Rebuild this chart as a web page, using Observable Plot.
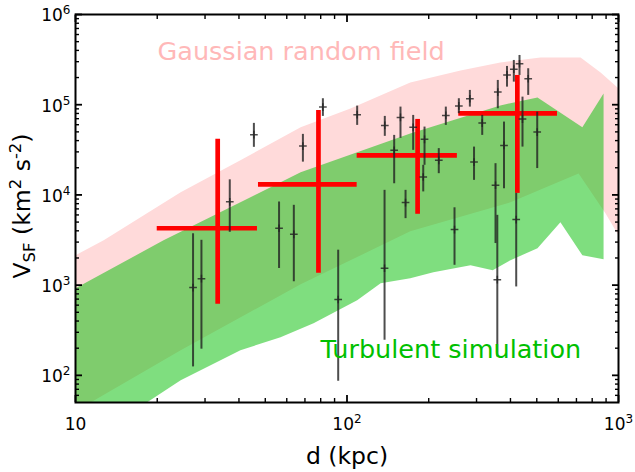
<!DOCTYPE html>
<html><head><meta charset="utf-8">
<script src="https://cdn.jsdelivr.net/npm/d3@7"></script>
<script src="https://cdn.jsdelivr.net/npm/@observablehq/plot@0.6"></script>
<style>body{margin:0;background:#fff;} svg{font-family:"DejaVu Sans";}</style>
</head><body><div id="chart"></div>
<script>
// axis ticks
const xMajor = [10, 100, 1000];
const xTickBase = ["10", "10", "10"];
const xTickExp = ["", "2", "3"];
const xMinor = [20,30,40,50,60,70,80,90,200,300,400,500,600,700,800,900];
const yMajor = [1e2, 1e3, 1e4, 1e5, 1e6];
const yTickBase = ["10", "10", "10", "10", "10"];
const yTickExp = ["2", "3", "4", "5", "6"];
const yMinor = [60,70,80,90,200,300,400,500,600,700,800,900,2e3,3e3,4e3,5e3,6e3,7e3,8e3,9e3,
  2e4,3e4,4e4,5e4,6e4,7e4,8e4,9e4,2e5,3e5,4e5,5e5,6e5,7e5,8e5,9e5];

// Gaussian random field band
const pinkUpperX = [10, 12.7, 24.4, 40.5, 67.5, 103, 171, 262, 367, 516, 725, 859, 1000];
const pinkUpperY = [2140, 3140, 10700, 24200, 56100, 91000, 176600, 240000, 294000, 334000, 334000, 228000, 151700];
const pinkLowerX = [10, 24.4, 67.5, 171, 400, 713, 895, 1000];
const pinkLowerY = [40, 190, 1020, 3950, 8280, 17300, 6250, 3570];

// Turbulent simulation band
const greenUpperX = [10, 21.1, 40.5, 67.5, 171, 367, 503, 736, 881];
const greenUpperY = [924, 3140, 8280, 17800, 48100, 98200, 120500, 56100, 133400];
const greenLowerX = [10, 18.4, 24.4, 40.5, 56.9, 75.3, 109, 133, 171, 208, 285, 344, 400, 503, 611, 736, 881];
const greenLowerY = [17, 50.5, 88.5, 190, 265, 378, 681, 1050, 1190, 1390, 1660, 1460, 1890, 2560, 4980, 2140, 1940];

// observed points
const dX = [27.1, 29.1, 37.0, 45.4, 56.2, 63.7, 68.8, 81.5, 92.8, 109, 137.8, 137.5, 149.2, 157.4, 164.3, 175.3, 193, 190.9, 217.8, 231.2, 248.9, 258.2, 283.5, 293.7, 314.8, 352.4, 357.8, 359.3, 378.7, 388.5, 411.6, 420, 431.9, 443, 465, 501.9];
const dY = [940, 1180, 8390, 46500, 4270, 3660, 34800, 94100, 693, 77500, 59000, 1540, 31200, 72300, 8220, 56100, 41300, 15800, 24200, 76100, 4130, 97000, 116500, 23100, 62600, 12800, 1150, 137900, 35400, 213800, 247900, 5330, 284500, 69300, 194100, 49700];
const dLo = [124, 195, 3850, 33700, 1530, 1090, 23100, 74200, 86, 59000, 44600, 245, 13300, 42400, 5460, 31200, 21300, 10800, 17200, 59000, 1660, 79500, 94100, 14500, 45700, 2890, 160, 90300, 11700, 156600, 178000, 955, 211100, 33900, 126800, 19600];
const dHi = [3710, 3140, 14700, 62100, 8350, 7670, 46900, 116500, 2440, 96500, 74200, 11240, 45700, 94100, 11240, 76100, 56500, 21300, 32600, 94100, 7200, 116500, 144000, 33900, 76100, 22200, 5940, 185800, 64200, 265600, 309400, 10400, 351600, 121400, 250400, 82800];

// binned red crosses
const crossX = [33.4, 78.5, 182, 424];
const crossXLo = [20.0, 47.2, 109, 258];
const crossXHi = [46.8, 109, 255, 596];
const crossY = [4270, 13100, 27500, 80100];
const crossYLo = [614, 1355, 6100, 10400];
const crossYHi = [41300, 86500, 68700, 211000];

// annotations
const annText = ["Gaussian random field", "Turbulent simulation"];
const annX = [20.05, 79.9];
const annY = [310000, 155];
const annColor = ["#ffb8b8", "#00c000"];

const poly = (ux, uy, lx, ly) => [
  ...ux.map((x, i) => ({x, y: uy[i]})),
  ...lx.map((x, i) => ({x, y: ly[i]})).reverse()
];
const pinkPoly = poly(pinkUpperX, pinkUpperY, pinkLowerX, pinkLowerY);
const greenPoly = poly(greenUpperX, greenUpperY, greenLowerX, greenLowerY);
const points = dX.map((x, i) => ({x, y: dY[i], lo: dLo[i], hi: dHi[i]}));
const crosses = crossX.map((x, i) => ({x, xlo: crossXLo[i], xhi: crossXHi[i], y: crossY[i], ylo: crossYLo[i], yhi: crossYHi[i]}));
const anns = annText.map((t, i) => ({t, x: annX[i], y: annY[i], c: annColor[i]}));

const W = 635, H = 472, mL = 75, mR = 17, mT = 14, mB = 70;
// inward ticks: negative tick size on all four sides
const tk = (w) => ({fill: "none", stroke: "black", strokeWidth: w});
const ticksX = (vals, len, w) => [
  Plot.axisX(vals, {anchor: "bottom", tickSize: -len, ...tk(w)}),
  Plot.axisX(vals, {anchor: "top", tickSize: -len, ...tk(w)})
];
const ticksY = (vals, len, w) => [
  Plot.axisY(vals, {anchor: "left", tickSize: -len, ...tk(w)}),
  Plot.axisY(vals, {anchor: "right", tickSize: -len, ...tk(w)})
];

const fs = 17;
const plot = Plot.plot({
  width: W, height: H,
  marginLeft: mL, marginRight: mR, marginTop: mT, marginBottom: mB,
  x: {type: "log", domain: [10, 1000], label: null},
  y: {type: "log", domain: [50, 1e6], label: null},
  style: {fontFamily: "DejaVu Sans", fontSize: fs + "px", color: "black", background: "white"},
  marks: [
    Plot.line(pinkPoly, {x: "x", y: "y", fill: "#ffdada", stroke: "none", clip: true}),
    Plot.line(greenPoly, {x: "x", y: "y", fill: "#00be00", fillOpacity: 0.5, stroke: "none", clip: true}),
    Plot.ruleY(crosses, {y: "y", x1: "xlo", x2: "xhi", stroke: "red", strokeWidth: 4.7}),
    Plot.ruleX(crosses, {x: "x", y1: "ylo", y2: "yhi", stroke: "red", strokeWidth: 4.7}),
    Plot.ruleX(points, {x: "x", y1: "lo", y2: "hi", stroke: "#222", strokeOpacity: 0.8, strokeWidth: 2, clip: true}),
    Plot.dot(points, {x: "x", y: "y", symbol: "plus", r: 2.6, stroke: "#222", strokeOpacity: 0.8, strokeWidth: 1.5}),
    Plot.text(anns, {x: "x", y: "y", text: "t", fill: "c", textAnchor: "start", lineAnchor: "bottom", fontSize: 25.5}),
    ...ticksX(xMajor, 7, 1.8), ...ticksX(xMinor, 4, 1.4),
    ...ticksY(yMajor, 7, 1.8), ...ticksY(yMinor, 4, 1.4),
    Plot.axisX(xMajor, {anchor: "bottom", tickSize: 0, tickPadding: 15.5, fontSize: fs, tickFormat: d => xTickBase[xMajor.indexOf(d)] + xTickExp[xMajor.indexOf(d)]}),
    Plot.axisY(yMajor, {anchor: "left", tickSize: 0, tickPadding: 5, dy: 1.5, fontSize: fs, tickFormat: d => yTickBase[yMajor.indexOf(d)] + yTickExp[yMajor.indexOf(d)]}),
    Plot.frame({stroke: "black", strokeWidth: 2}),
    Plot.text(["d (kpc)"], {frameAnchor: "bottom", dy: 61, lineAnchor: "bottom", fontSize: 23.5, fill: "black"})
  ]
});

const svg = d3.select(plot);
// rebuild tick labels as base + superscript tspans
function superscriptLabels(sel, vals, base, exp) {
  sel.each(function() {
    const t = d3.select(this);
    const s = t.text();
    const k = vals.findIndex((v, j) => base[j] + exp[j] === s);
    if (k < 0) return;
    t.text(null);
    t.append("tspan").text(base[k]);
    if (exp[k]) t.append("tspan").attr("font-size", 12).attr("dy", -7).text(exp[k]);
  });
}
superscriptLabels(svg.selectAll('[aria-label^="x-axis"] text'), xMajor, xTickBase, xTickExp);
superscriptLabels(svg.selectAll('[aria-label^="y-axis"] text'), yMajor, yTickBase, yTickExp);

// y-axis label with subscript / superscripts
const yl = svg.append("text")
  .attr("transform", "translate(30,206) rotate(-90)")
  .attr("text-anchor", "middle")
  .attr("font-family", "DejaVu Sans")
  .attr("font-size", 23.5)
  .attr("fill", "black");
yl.append("tspan").text("V");
yl.append("tspan").attr("font-size", 16.5).attr("dy", 5).text("SF");
yl.append("tspan").attr("dy", -5).text(" (km");
yl.append("tspan").attr("font-size", 16.5).attr("dy", -9).text("2");
yl.append("tspan").attr("dy", 9).text(" s");
yl.append("tspan").attr("font-size", 16.5).attr("dy", -9).text("-2");
yl.append("tspan").attr("dy", 9).text(")");

document.getElementById("chart").appendChild(plot);
</script>
</body></html>
